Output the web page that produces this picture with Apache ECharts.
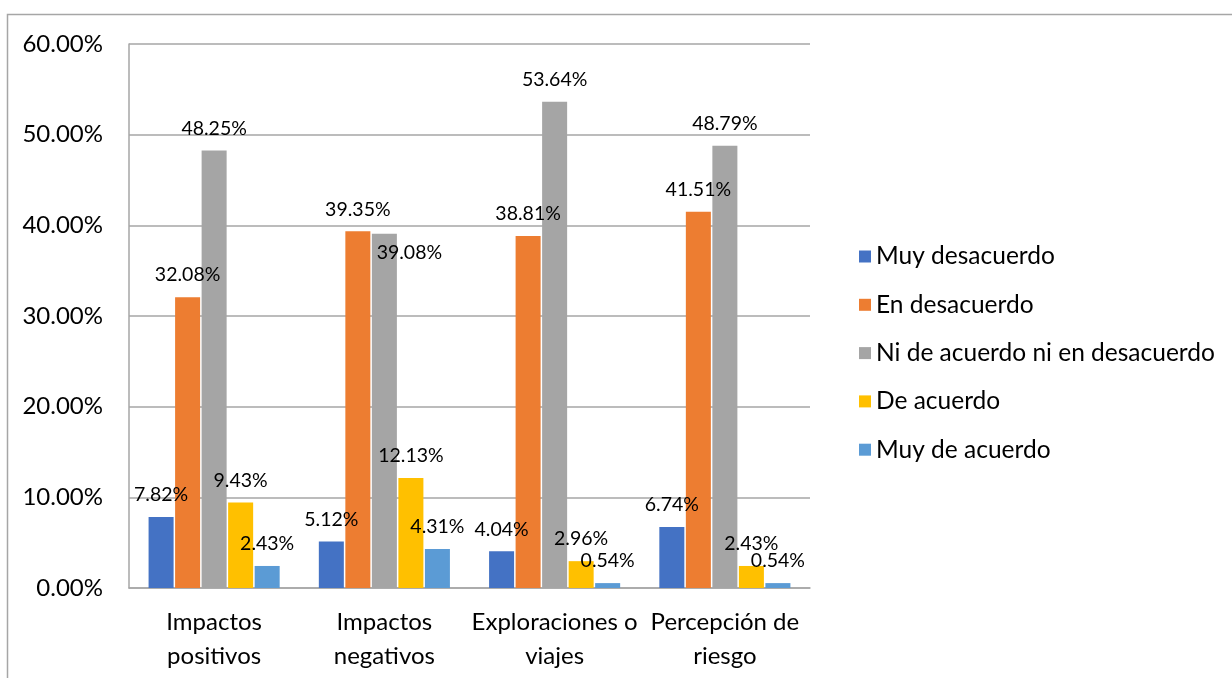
<!DOCTYPE html>
<html>
<head>
<meta charset="utf-8">
<script src="https://cdn.jsdelivr.net/npm/echarts@6/dist/echarts.min.js"></script>
<style>
  html, body { margin: 0; padding: 0; background: #fff; }
  #main-chart { width: 1232px; height: 678px; }
</style>
</head>
<body>
<div id="main-chart"></div>
<script>
// datos del gráfico (porcentajes)
var categorias = ["Impactos\npositivos", "Impactos\nnegativos", "Exploraciones o\nviajes", "Percepción de\nriesgo"];
var series_nombres = ["Muy desacuerdo", "En desacuerdo", "Ni de acuerdo ni en desacuerdo", "De acuerdo", "Muy de acuerdo"];
var muy_desacuerdo = [7.82, 5.12, 4.04, 6.74];
var en_desacuerdo = [32.08, 39.35, 38.81, 41.51];
var ni_ni = [48.25, 39.08, 53.64, 48.79];
var de_acuerdo = [9.43, 12.13, 2.96, 2.43];
var muy_de_acuerdo = [2.43, 4.31, 0.54, 0.54];
var colores = ["#4472C4", "#ED7D31", "#A5A5A5", "#FFC000", "#5B9BD5"];

var fuente = "Lato, 'Open Sans', sans-serif";
var myChart = echarts.init(document.getElementById('main-chart'));

function serie(nombre, datos, color) {
    return {
        name: nombre,
        type: 'bar',
        barGap: '6%',
        barCategoryGap: '23%',
        itemStyle: { color: color },
        label: {
            show: true,
            position: 'top',
            distance: 12,
            fontFamily: fuente,
            fontSize: 19.5,
            color: '#000',
            formatter: function (p) { return p.value.toFixed(2) + '%'; }
        },
        data: datos
    };
}

var datos_ni = ni_ni.map(function (v, i) {
    // en la imagen la etiqueta 39.08% está desplazada
    if (i === 1) return { value: v, label: { offset: [25, 41] } };
    return v;
});

var option = {
    animation: false,
    backgroundColor: '#fff',
    graphic: [{
        type: 'rect',
        shape: { x: 7.5, y: 14.5, width: 1400, height: 900 },
        style: { fill: null, stroke: '#a6a6a6', lineWidth: 1.5 }
    }],
    grid: { left: 129, top: 44, right: 422, bottom: 90 },
    legend: {
        orient: 'vertical',
        left: 854,
        top: 239,
        icon: 'rect',
        itemWidth: 12,
        itemHeight: 12,
        itemGap: 23.3,
        textStyle: { fontFamily: fuente, fontSize: 24.5, color: '#000' },
        data: series_nombres
    },
    xAxis: {
        type: 'category',
        data: categorias,
        axisTick: { show: false },
        axisLine: { lineStyle: { color: '#a6a6a6', width: 1.5 } },
        axisLabel: { interval: 0, fontFamily: fuente, fontSize: 24, color: '#000', lineHeight: 34, margin: 17 }
    },
    yAxis: {
        type: 'value',
        min: 0,
        max: 60,
        interval: 10,
        axisLine: { show: true, lineStyle: { color: '#a6a6a6', width: 1.5 } },
        axisTick: { show: false },
        splitLine: { lineStyle: { color: '#a6a6a6', width: 1.5 } },
        axisLabel: {
            fontFamily: fuente, fontSize: 24, color: '#000', margin: 26,
            formatter: function (v) { return v.toFixed(2) + '%'; }
        }
    },
    series: [
        serie(series_nombres[0], muy_desacuerdo, colores[0]),
        serie(series_nombres[1], en_desacuerdo, colores[1]),
        serie(series_nombres[2], datos_ni, colores[2]),
        serie(series_nombres[3], de_acuerdo, colores[3]),
        serie(series_nombres[4], muy_de_acuerdo, colores[4])
    ]
};

myChart.setOption(option);
</script>
</body>
</html>
